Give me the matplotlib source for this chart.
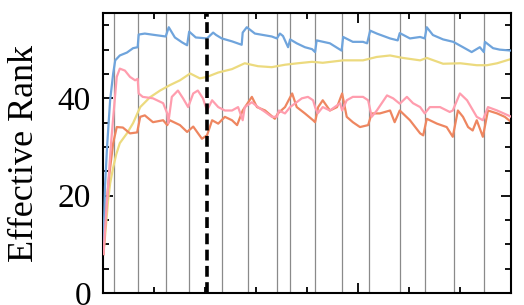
import matplotlib
matplotlib.use('Agg')
import matplotlib.pyplot as plt
from matplotlib.ticker import MultipleLocator

# 数据 (x: training steps, thousands)
blue_x = [0, 0.03, 0.07, 0.13, 0.19, 0.23, 0.32, 0.46, 0.58, 0.67, 0.69, 0.81, 1.01, 1.22,
          1.28, 1.40, 1.54, 1.64, 1.68, 1.81, 2.03, 2.15, 2.21, 2.32, 2.52, 2.71, 2.73,
          2.81, 2.97, 3.30, 3.40, 3.46, 3.52, 3.62, 3.66, 3.79, 3.95, 4.09, 4.15, 4.18,
          4.44, 4.67, 4.70, 4.89, 5.09, 5.17, 5.23, 5.36, 5.62, 5.77, 5.81, 6.01, 6.21,
          6.30, 6.34, 6.46, 6.66, 6.86, 7.05, 7.22, 7.38, 7.46, 7.48, 7.64, 7.77, 8.0]
blue_y = [10, 22, 30, 39.6, 45.1, 47.8, 48.8, 49.4, 50.3, 50.5, 53.1, 53.3, 53.0, 52.7,
          54.6, 52.5, 51.5, 50.9, 53.7, 52.5, 52.3, 53.5, 53.0, 52.3, 51.7, 51.0, 53.5,
          54.6, 53.3, 52.7, 52.3, 53.3, 52.8, 50.5, 52.1, 51.3, 50.5, 50.1, 49.5, 51.9,
          51.3, 49.8, 52.6, 51.6, 51.6, 51.3, 53.9, 53.3, 52.3, 51.9, 53.4, 52.3, 52.6,
          52.3, 54.6, 53.0, 52.1, 51.6, 50.5, 49.5, 50.5, 49.5, 51.6, 50.3, 50.0, 49.8]

yellow_x = [0, 0.05, 0.09, 0.13, 0.19, 0.25, 0.32, 0.46, 0.58, 0.72, 0.91, 1.11, 1.30,
            1.50, 1.70, 1.89, 2.03, 2.25, 2.52, 2.77, 3.03, 3.30, 3.56, 3.81, 4.09, 4.30,
            4.70, 5.09, 5.36, 5.62, 5.87, 6.21, 6.34, 6.66, 7.00, 7.32, 7.52, 7.72, 8.0]
yellow_y = [8, 14, 19, 22.5, 25.8, 28.5, 30.8, 32.8, 34.9, 38.2, 40.2, 41.6, 42.7,
            43.7, 45.1, 44.1, 44.4, 45.3, 46.0, 47.2, 46.6, 46.4, 46.9, 47.2, 47.5, 47.3,
            47.8, 47.8, 48.5, 48.8, 48.3, 47.8, 48.3, 47.1, 47.2, 46.8, 46.8, 47.2, 48.1]

pink_x = [0, 0.05, 0.11, 0.15, 0.19, 0.26, 0.32, 0.42, 0.52, 0.62, 0.67, 0.69, 0.77, 0.97,
          1.17, 1.25, 1.27, 1.34, 1.46, 1.56, 1.66, 1.76, 1.85, 1.95, 2.03, 2.13, 2.25,
          2.38, 2.52, 2.64, 2.73, 2.77, 2.91, 3.03, 3.17, 3.30, 3.40, 3.44, 3.56, 3.66,
          3.75, 3.89, 4.01, 4.11, 4.15, 4.20, 4.30, 4.44, 4.64, 4.68, 4.77, 4.89, 5.09,
          5.19, 5.26, 5.36, 5.56, 5.68, 5.81, 5.95, 6.07, 6.21, 6.30, 6.40, 6.60, 6.79,
          6.85, 6.99, 7.13, 7.32, 7.44, 7.54, 7.72, 8.0]
pink_y = [8, 16, 25, 31, 36, 44.4, 46.1, 45.7, 44.4, 43.7, 44.0, 41.0, 40.3, 40.0,
          39.0, 36.9, 34.9, 40.3, 41.6, 40.0, 38.2, 41.0, 41.6, 40.0, 37.5, 39.6, 38.2,
          37.5, 37.5, 38.2, 35.5, 38.2, 39.2, 38.2, 37.2, 36.2, 36.2, 37.5, 36.9, 38.2,
          38.9, 40.0, 40.3, 39.6, 38.2, 36.9, 38.2, 37.5, 39.0, 37.5, 39.6, 40.3, 40.3,
          39.6, 36.2, 37.5, 40.6, 40.0, 38.9, 40.3, 39.0, 38.2, 36.9, 38.2, 38.2, 37.2,
          37.5, 41.0, 39.6, 36.2, 35.5, 38.2, 37.5, 36.2]

orange_x = [0, 0.05, 0.11, 0.19, 0.26, 0.38, 0.52, 0.66, 0.72, 0.81, 0.97, 1.17, 1.25,
            1.30, 1.50, 1.64, 1.76, 1.93, 2.03, 2.13, 2.25, 2.38, 2.52, 2.62, 2.73, 2.91,
            3.01, 3.17, 3.36, 3.42, 3.56, 3.70, 3.79, 3.95, 4.11, 4.15, 4.21, 4.30, 4.44,
            4.58, 4.68, 4.77, 4.89, 5.03, 5.19, 5.26, 5.42, 5.62, 5.71, 5.81, 6.01, 6.21,
            6.27, 6.34, 6.54, 6.73, 6.85, 6.95, 7.05, 7.15, 7.24, 7.32, 7.44, 7.54, 7.72,
            7.87, 8.0]
orange_y = [8, 17, 24, 30.8, 34.1, 34.0, 32.8, 33.0, 36.2, 36.5, 35.1, 35.5, 34.5,
            35.5, 34.5, 33.1, 34.2, 31.7, 32.4, 35.5, 34.8, 36.2, 35.5, 34.5, 37.5, 40.3,
            38.2, 37.5, 35.8, 36.9, 38.2, 41.0, 38.2, 36.9, 35.5, 35.1, 38.2, 39.6, 37.5,
            38.2, 41.0, 36.2, 35.1, 34.1, 34.5, 36.9, 36.9, 37.5, 35.1, 37.5, 35.5, 32.8,
            32.4, 35.8, 34.8, 34.1, 32.1, 37.5, 36.2, 34.1, 33.4, 35.5, 32.1, 37.5, 36.9,
            36.2, 35.1]

# 分段位置
stage_lines = [0.21, 0.68, 1.23, 1.68, 2.32, 2.83, 3.40, 3.66, 4.15, 4.68, 5.21, 5.81,
               6.30, 6.87, 7.46]
switch_x = 2.03

plt.rcParams['font.family'] = ['Liberation Serif', 'DejaVu Serif']

fig = plt.figure(figsize=(5.24, 3.05), dpi=100)
ax = fig.add_axes([0.1975, 0.039, 0.7785, 0.918])

for s in stage_lines:
    ax.axvline(s, color='#8a8a8a', lw=0.9, zorder=1)

ax.plot(yellow_x, yellow_y, color='#ECDA7E', lw=1.6, zorder=2)
ax.plot(blue_x, blue_y, color='#6FA4DC', lw=1.6, zorder=3)
ax.plot(pink_x, pink_y, color='#FF9DAE', lw=1.6, zorder=3)
ax.plot(orange_x, orange_y, color='#EE8660', lw=1.6, zorder=2)

ax.axvline(switch_x, color='black', lw=2.6, ls=(0, (3, 1.5)), zorder=4)

ax.set_xlim(0, 8)
ax.set_ylim(0, 57.5)
ax.xaxis.set_major_locator(MultipleLocator(5))
ax.xaxis.set_minor_locator(MultipleLocator(1))
ax.yaxis.set_major_locator(MultipleLocator(20))
ax.yaxis.set_minor_locator(MultipleLocator(5))
ax.tick_params(which='both', direction='in', top=True, right=True, width=1.3)
ax.tick_params(which='major', length=7.5)
ax.tick_params(which='minor', length=4)
ax.tick_params(axis='y', labelsize=24, pad=9)
ax.tick_params(axis='x', labelbottom=False)
for sp in ax.spines.values():
    sp.set_linewidth(1.5)

ax.set_ylabel('Effective Rank', fontsize=26, labelpad=12)

fig.savefig('out.png', dpi=100)
